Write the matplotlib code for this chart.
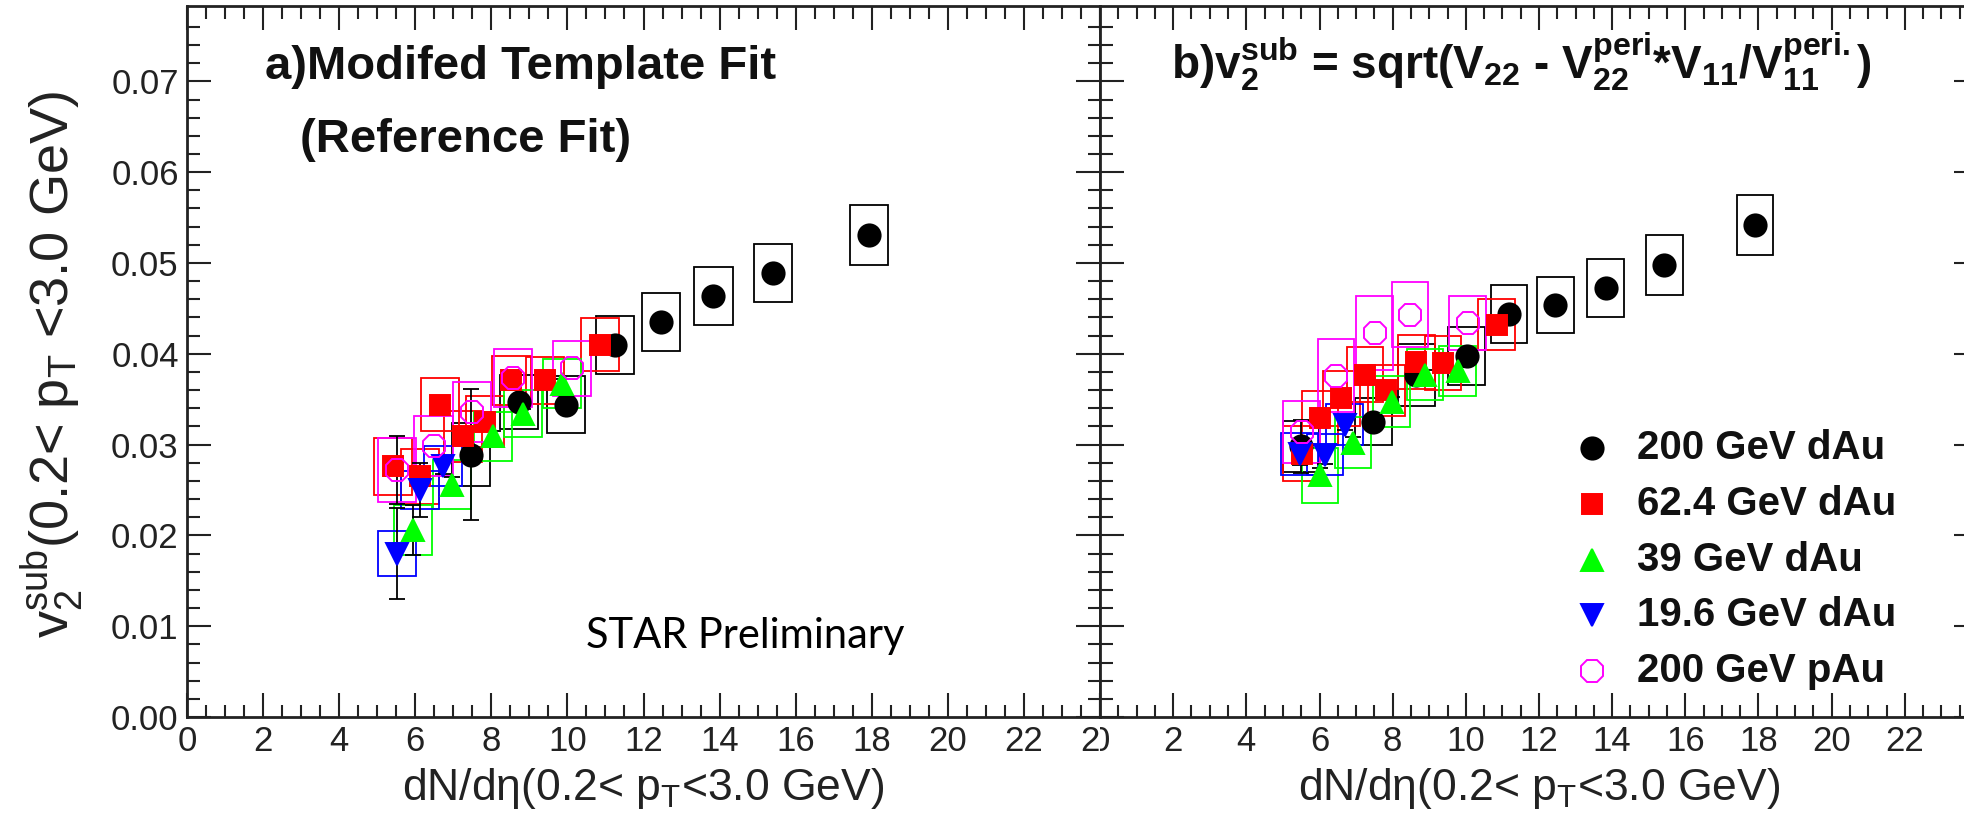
# v2 sub vs dN/deta - two panel STAR style plot
import matplotlib
matplotlib.use("Agg")
import matplotlib.pyplot as plt
from matplotlib.patches import Rectangle
from matplotlib.transforms import Bbox, TransformedBbox
import numpy as np

plt.rcParams['font.family'] = ['Liberation Sans', 'DejaVu Sans']
plt.rcParams['mathtext.fontset'] = 'custom'
plt.rcParams['mathtext.rm'] = 'Liberation Sans'
plt.rcParams['mathtext.it'] = 'Liberation Sans'
plt.rcParams['mathtext.bf'] = 'Liberation Sans:bold'

series_names = ['200 GeV dAu', '62.4 GeV dAu', '39 GeV dAu', '19.6 GeV dAu', '200 GeV pAu']

# panel a) modified template fit
black_a_x = [7.47, 8.72, 9.97, 11.25, 12.45, 13.84, 15.40, 17.93]
black_a_y = [0.0289, 0.0347, 0.0344, 0.0410, 0.0435, 0.0464, 0.0489, 0.0531]
black_a_stat = [0.0072, 0.0006, 0.0005, 0.0005, 0.0005, 0.0005, 0.0004, 0.0004]
black_a_sys = [0.0035, 0.0030, 0.0031, 0.0032, 0.0032, 0.0032, 0.0032, 0.0033]

red_a_x = [5.42, 6.12, 6.65, 7.26, 7.83, 8.53, 9.41, 10.86]
red_a_y = [0.0276, 0.0265, 0.0344, 0.0309, 0.0325, 0.0371, 0.0371, 0.0410]
red_a_stat = [0.0006, 0.0006, 0.0005, 0.0005, 0.0005, 0.0004, 0.0004, 0.0004]
red_a_sys = [0.0031, 0.0030, 0.0029, 0.0028, 0.0028, 0.0027, 0.0026, 0.0029]

green_a_x = [5.95, 6.96, 8.04, 8.82, 9.87]
green_a_y = [0.0206, 0.0256, 0.0309, 0.0334, 0.0367]
green_a_stat = [0.0028, 0.0008, 0.0006, 0.0005, 0.0005]
green_a_sys = [0.0028, 0.0027, 0.0027, 0.0026, 0.0027]

blue_a_x = [5.53, 6.12, 6.74]
blue_a_y = [0.0180, 0.0250, 0.0276]
blue_a_stat = [0.0050, 0.0030, 0.0008]
blue_a_sys = [0.0025, 0.0021, 0.0022]

mag_a_x = [5.53, 6.48, 7.50, 8.56, 10.11]
mag_a_y = [0.0272, 0.0298, 0.0336, 0.0373, 0.0384]
mag_a_stat = [0.0037, 0.0, 0.0, 0.0, 0.0]
mag_a_sys = [0.0035, 0.0033, 0.0033, 0.0032, 0.0030]

# panel b) sqrt(V22 - V22peri*V11/V11peri)
black_b_x = [5.50, 7.47, 8.65, 10.02, 11.18, 12.45, 13.82, 15.43, 17.90]
black_b_y = [0.0298, 0.0325, 0.0377, 0.0398, 0.0444, 0.0454, 0.0472, 0.0498, 0.0542]
black_b_stat = [0.0029, 0.0006, 0.0005, 0.0005, 0.0005, 0.0005, 0.0004, 0.0004, 0.0004]
black_b_sys = [0.0028, 0.0026, 0.0034, 0.0032, 0.0032, 0.0031, 0.0032, 0.0033, 0.0033]

red_b_x = [5.51, 6.01, 6.60, 7.24, 7.83, 8.65, 9.38, 10.84]
red_b_y = [0.0290, 0.0329, 0.0351, 0.0377, 0.0360, 0.0391, 0.0390, 0.0432]
red_b_stat = [0.0006, 0.0005, 0.0005, 0.0005, 0.0005, 0.0004, 0.0004, 0.0004]
red_b_sys = [0.0030, 0.0030, 0.0030, 0.0030, 0.0028, 0.0030, 0.0030, 0.0028]

green_b_x = [6.01, 6.92, 7.97, 8.88, 9.78]
green_b_y = [0.0266, 0.0302, 0.0347, 0.0377, 0.0381]
green_b_stat = [0.0008, 0.0006, 0.0005, 0.0005, 0.0004]
green_b_sys = [0.0030, 0.0028, 0.0028, 0.0028, 0.0028]

blue_b_x = [5.46, 6.15, 6.69]
blue_b_y = [0.0290, 0.0289, 0.0322]
blue_b_stat = [0.0012, 0.0010, 0.0006]
blue_b_sys = [0.0023, 0.0023, 0.0023]

mag_b_x = [5.51, 6.45, 7.51, 8.47, 10.05]
mag_b_y = [0.0314, 0.0376, 0.0423, 0.0443, 0.0434]
mag_b_stat = [0.0, 0.0, 0.0, 0.0, 0.0]
mag_b_sys = [0.0034, 0.0040, 0.0041, 0.0036, 0.0030]

# marker styles per series (ROOT 20, 21, 22, 23, 24-ish)
styles = [
	dict(color='black', marker='o', ms=16, mfc='black'),
	dict(color='#ff0000', marker='s', ms=15, mfc='#ff0000'),
	dict(color='#00ff00', marker='^', ms=16, mfc='#00ff00'),
	dict(color='#0000ff', marker='v', ms=16, mfc='#0000ff'),
	dict(color='#ff00ff', marker='8', ms=17, mfc='none'),
]

W, H = 1965, 823
X_LEFT, X_MID, X_RIGHT = 187, 1100, 1978
Y_TOP, Y_BOT = 6, 717


#draw one series: sys boxes, stat bars, markers
def draw_series(ax, x, y, stat, sys, st):
	for xi, yi, si in zip(x, y, sys):
		ax.add_patch(Rectangle((xi - 0.5, yi - si), 1.0, 2 * si, fill=False,
							   edgecolor=st['color'], lw=1.3, zorder=3))
	# only bars with a real size, zero ones would leave caps in hollow markers
	ex = [xi for xi, e in zip(x, stat) if e > 0]
	ey = [yi for yi, e in zip(y, stat) if e > 0]
	ee = [e for e in stat if e > 0]
	if ee:
		ax.errorbar(ex, ey, yerr=ee, fmt='none', ecolor='black', elinewidth=1.3,
					capsize=6, capthick=1.3, zorder=4)
	ax.plot(x, y, ls='none', marker=st['marker'], ms=st['ms'], mfc=st['mfc'],
			mec=st['color'], mew=1.4, zorder=5)


#common axes look (ROOT like ticks)
def style_axes(ax, show_ylabels, xlabels):
	ax.set_xlim(0, 24)
	ax.set_ylim(0, 0.0783)
	ax.set_xticks(np.arange(0, 25, 2))
	ax.set_xticks(np.arange(0, 24.01, 0.5), minor=True)
	ax.set_yticks(np.arange(0, 0.0701, 0.01))
	ax.set_yticks(np.arange(0, 0.078, 0.002), minor=True)
	ax.tick_params(which='both', direction='in', top=True, right=True, width=1.5,
				   colors='#222222', labelcolor='#222222')
	ax.tick_params(which='major', length=17, labelsize=25, pad=6)
	ax.tick_params(which='minor', length=9)
	ax.set_xticklabels(xlabels)
	if show_ylabels:
		ax.set_yticklabels(['0.00'] + ['%.2f' % v for v in np.arange(0.01, 0.0701, 0.01)])
	else:
		ax.set_yticklabels([])
	for sp in ax.spines.values():
		sp.set_linewidth(2.0)
		sp.set_color('#222222')
	ax.text(0.5, -0.117, u'dN/dη(0.2< p$_{\\mathregular{T}}$<3.0 GeV)', transform=ax.transAxes,
			ha='center', va='baseline', fontsize=32, color='#222222')


def main():
	fig = plt.figure(figsize=(W / 100, H / 100), dpi=100)
	bot = 1 - Y_BOT / H
	hgt = (Y_BOT - Y_TOP) / H
	ax_a = fig.add_axes([X_LEFT / W, bot, (X_MID - X_LEFT) / W, hgt])
	ax_b = fig.add_axes([X_MID / W, bot, (X_RIGHT - X_MID) / W, hgt])

	labels = [str(v) for v in range(0, 25, 2)]
	style_axes(ax_a, True, labels)
	style_axes(ax_b, False, labels[:-1] + [''])

	# the two canvases overlap: cut "24" (left) and "0" (right) at the boundary
	left_clip = TransformedBbox(Bbox([[0, 0], [X_MID / W, 1]]), fig.transFigure)
	right_clip = TransformedBbox(Bbox([[X_MID / W, 0], [1, 1]]), fig.transFigure)
	for lab in ax_a.get_xticklabels():
		lab.set_clip_box(left_clip)
		lab.set_clip_on(True)
	for lab in ax_b.get_xticklabels():
		lab.set_clip_box(right_clip)
		lab.set_clip_on(True)

	data_a = [(black_a_x, black_a_y, black_a_stat, black_a_sys),
			  (red_a_x, red_a_y, red_a_stat, red_a_sys),
			  (green_a_x, green_a_y, green_a_stat, green_a_sys),
			  (blue_a_x, blue_a_y, blue_a_stat, blue_a_sys),
			  (mag_a_x, mag_a_y, mag_a_stat, mag_a_sys)]
	data_b = [(black_b_x, black_b_y, black_b_stat, black_b_sys),
			  (red_b_x, red_b_y, red_b_stat, red_b_sys),
			  (green_b_x, green_b_y, green_b_stat, green_b_sys),
			  (blue_b_x, blue_b_y, blue_b_stat, blue_b_sys),
			  (mag_b_x, mag_b_y, mag_b_stat, mag_b_sys)]
	for d, st in zip(data_a, styles):
		draw_series(ax_a, *d, st)
	for d, st in zip(data_b, styles):
		draw_series(ax_b, *d, st)

	# titles
	ax_a.text(0.085, 0.898, 'a)Modifed Template Fit', transform=ax_a.transAxes,
			  fontsize=34, fontweight='bold', va='baseline', color='#111111')
	ax_a.text(0.124, 0.795, '(Reference Fit)', transform=ax_a.transAxes,
			  fontsize=34, fontweight='bold', va='baseline', color='#111111')
	ax_a.text(0.437, 0.097, 'STAR Preliminary', transform=ax_a.transAxes,
			  fontsize=30, family='Lato', va='baseline', color='black')
	ax_b.text(0.081, 0.898,
			  r'b)$\mathbf{v_{2}^{sub}}$ = sqrt($\mathbf{V_{22}}$ - $\mathbf{V_{22}^{peri}}$*'
			  r'$\mathbf{V_{11}}$/$\mathbf{V_{11}^{peri.}}$)',
			  transform=ax_b.transAxes, fontsize=33, fontweight='bold',
			  va='baseline', color='#111111')

	# y axis title
	fig.text(52 / W, 1 - 365 / H, r'v$_{\mathregular{2}}^{\mathregular{sub}}$(0.2< p$_{\mathregular{T}}$ <3.0 GeV)',
			 rotation=90, ha='center', va='center', fontsize=39, color='#222222')

	# legend, drawn by hand to keep the ROOT row spacing
	mk_x = (1592 - X_MID) / (X_RIGHT - X_MID)
	tx_x = (1637 - X_MID) / (X_RIGHT - X_MID)
	for i, (name, st) in enumerate(zip(series_names, styles)):
		yy = (Y_BOT - (448 + 55.8 * i)) / (Y_BOT - Y_TOP)
		ax_b.plot([mk_x], [yy], transform=ax_b.transAxes, ls='none', marker=st['marker'],
				  ms=st['ms'], mfc=st['mfc'], mec=st['color'], mew=1.4, clip_on=False)
		ax_b.text(tx_x, yy, name, transform=ax_b.transAxes, fontsize=29, fontweight='bold',
				  va='center', ha='left', color='#111111')

	fig.savefig('out.png', dpi=100)
	print('Done')


if __name__ == "__main__":
	main()
